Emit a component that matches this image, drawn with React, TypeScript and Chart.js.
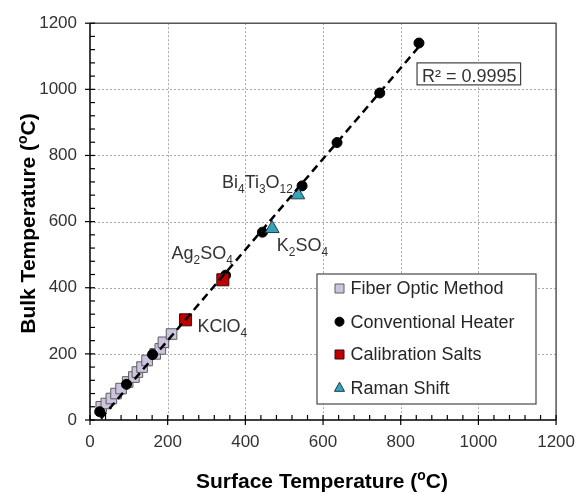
import React, { useEffect, useRef } from 'react';
import { Chart, registerables } from 'chart.js';

Chart.register(...registerables);

const FONT = '"Liberation Sans", Arial, Helvetica, sans-serif';

// ---- data ----
const fiberX = [29, 42, 55, 67, 80, 97, 113, 122, 134, 147, 168, 181, 189, 210];
const fiberY = [40, 50, 65, 80, 95, 115, 130, 145, 160, 180, 200, 215, 235, 260];
const heaterX = [25, 94, 161, 349, 444, 546, 636, 746, 847];
const heaterY = [25, 108, 198, 438, 568, 708, 839, 989, 1140];
const saltX = [246, 342];
const saltY = [303, 424];
const ramanX = [469, 535];
const ramanY = [579, 681];
const trendX = [28, 852];
const trendY = [4, 1136];
const axisTicks = [0, 200, 400, 600, 800, 1000, 1200];
const minorTicks = [
  40, 80, 120, 160, 240, 280, 320, 360, 440, 480, 520, 560, 640, 680, 720, 760,
  840, 880, 920, 960, 1040, 1080, 1120, 1160,
];
const rSquaredText = 'R² = 0.9995';
const xTitle = 'Surface Temperature (^{o}C)';
const yTitle = 'Bulk Temperature (^{o}C)';
const seriesLabels = ['Fiber Optic Method', 'Conventional Heater', 'Calibration Salts', 'Raman Shift'];

// annotation labels (text anchored in data coordinates: left, baseline)
const noteText = ['Bi_{4}Ti_{3}O_{12}', 'K_{2}SO_{4}', 'Ag_{2}SO_{4}', 'KClO_{4}'];
const noteX = [340, 481, 210, 277];
const noteY = [701, 511, 487, 265];

const pts = (xs: number[], ys: number[]) => xs.map((x, i) => ({ x, y: ys[i] }));

type Seg = { t: string; k: 'n' | 'sub' | 'sup' };
function parseRich(s: string): Seg[] {
  const out: Seg[] = [];
  const re = /([_^])\{([^}]*)\}/g;
  let last = 0;
  let m: RegExpExecArray | null;
  while ((m = re.exec(s))) {
    if (m.index > last) out.push({ t: s.slice(last, m.index), k: 'n' });
    out.push({ t: m[2], k: m[1] === '_' ? 'sub' : 'sup' });
    last = re.lastIndex;
  }
  if (last < s.length) out.push({ t: s.slice(last), k: 'n' });
  return out;
}

function drawRich(
  ctx: CanvasRenderingContext2D,
  str: string,
  x: number,
  y: number,
  size: number,
  weight: string,
  color: string,
  align: 'left' | 'center'
) {
  const segs = parseRich(str);
  const small = size * 0.66;
  ctx.textBaseline = 'alphabetic';
  ctx.textAlign = 'left';
  ctx.fillStyle = color;
  const widths = segs.map((s) => {
    ctx.font = `${weight} ${s.k === 'n' ? size : small}px ${FONT}`;
    return ctx.measureText(s.t).width;
  });
  const total = widths.reduce((a, b) => a + b, 0);
  let cx = align === 'center' ? x - total / 2 : x;
  segs.forEach((s, i) => {
    ctx.font = `${weight} ${s.k === 'n' ? size : small}px ${FONT}`;
    const dy = s.k === 'sub' ? size * 0.28 : s.k === 'sup' ? -size * 0.4 : 0;
    ctx.fillText(s.t, cx, y + dy);
    cx += widths[i];
  });
}

function drawMarker(ctx: CanvasRenderingContext2D, ds: any, x: number, y: number, r: number) {
  ctx.save();
  ctx.fillStyle = ds.backgroundColor;
  ctx.strokeStyle = ds.borderColor;
  ctx.lineWidth = ds.borderWidth ?? 1;
  ctx.beginPath();
  if (ds.pointStyle === 'rect') {
    ctx.rect(x - r, y - r, 2 * r, 2 * r);
  } else if (ds.pointStyle === 'triangle') {
    const h = r * 1.9;
    ctx.moveTo(x, y - h * 0.6);
    ctx.lineTo(x + r * 1.05, y + h * 0.4);
    ctx.lineTo(x - r * 1.05, y + h * 0.4);
    ctx.closePath();
  } else {
    ctx.arc(x, y, r, 0, Math.PI * 2);
  }
  ctx.fill();
  ctx.stroke();
  ctx.restore();
}

const decorPlugin = {
  id: 'decor',
  beforeDatasetsDraw(chart: any) {
    const { ctx, chartArea: a, scales } = chart;
    const sx = scales.x;
    const sy = scales.y;
    ctx.save();
    ctx.strokeStyle = '#a8a8a8';
    ctx.lineWidth = 1;
    ctx.setLineDash([2, 2]);
    axisTicks.forEach((v) => {
      if (v <= 0 || v >= 1200) return;
      const px = Math.round(sx.getPixelForValue(v)) + 0.5;
      ctx.beginPath();
      ctx.moveTo(px, a.top);
      ctx.lineTo(px, a.bottom);
      ctx.stroke();
      const py = Math.round(sy.getPixelForValue(v)) + 0.5;
      ctx.beginPath();
      ctx.moveTo(a.left, py);
      ctx.lineTo(a.right, py);
      ctx.stroke();
    });
    ctx.restore();
  },
  afterDatasetsDraw(chart: any) {
    const { ctx, chartArea: a, scales } = chart;
    const sx = scales.x;
    const sy = scales.y;
    ctx.save();
    // frame (top/right)
    ctx.strokeStyle = '#555555';
    ctx.lineWidth = 1.5;
    ctx.beginPath();
    ctx.moveTo(a.left, a.top);
    ctx.lineTo(a.right, a.top);
    ctx.lineTo(a.right, a.bottom);
    ctx.stroke();
    // axes
    ctx.strokeStyle = '#000';
    ctx.lineWidth = 1.5;
    ctx.beginPath();
    ctx.moveTo(a.left, a.top);
    ctx.lineTo(a.left, a.bottom);
    ctx.lineTo(a.right, a.bottom);
    ctx.stroke();
    // ticks
    ctx.lineWidth = 1.2;
    axisTicks.forEach((v) => {
      const px = sx.getPixelForValue(v);
      ctx.beginPath();
      ctx.moveTo(px, a.bottom + 5);
      ctx.lineTo(px, a.bottom - 5);
      ctx.stroke();
      const py = sy.getPixelForValue(v);
      ctx.beginPath();
      ctx.moveTo(a.left - 5, py);
      ctx.lineTo(a.left + 5, py);
      ctx.stroke();
    });
    minorTicks.forEach((v) => {
      const px = sx.getPixelForValue(v);
      ctx.beginPath();
      ctx.moveTo(px, a.bottom);
      ctx.lineTo(px, a.bottom - 5);
      ctx.stroke();
      const py = sy.getPixelForValue(v);
      ctx.beginPath();
      ctx.moveTo(a.left, py);
      ctx.lineTo(a.left + 5, py);
      ctx.stroke();
    });

    // annotations
    noteText.forEach((t, i) => {
      drawRich(ctx, t, sx.getPixelForValue(noteX[i]), sy.getPixelForValue(noteY[i]), 18, 'normal', '#333', 'left');
    });

    // R² box
    const bx = sx.getPixelForValue(842);
    const by = sy.getPixelForValue(1080);
    ctx.font = `18px ${FONT}`;
    const tw = ctx.measureText(rSquaredText).width;
    ctx.fillStyle = '#fff';
    ctx.fillRect(bx, by, tw + 9, 22);
    ctx.strokeStyle = '#404040';
    ctx.lineWidth = 1.2;
    ctx.strokeRect(bx, by, tw + 9, 22);
    ctx.fillStyle = '#333';
    ctx.textAlign = 'left';
    ctx.textBaseline = 'alphabetic';
    ctx.fillText(rSquaredText, bx + 5, by + 19);

    // legend
    const lx = 317;
    const ly = 274;
    ctx.fillStyle = '#fff';
    ctx.fillRect(lx, ly, 219, 130);
    ctx.strokeStyle = '#555';
    ctx.lineWidth = 1.3;
    ctx.strokeRect(lx, ly, 219, 130);
    const dsets = chart.data.datasets;
    const rows = [288.5, 321.7, 354.5, 387.7];
    seriesLabels.forEach((lab, i) => {
      const ds = dsets.find((d: any) => d.label === lab);
      const r = ds.pointStyle === 'circle' ? 4.5 : ds.pointStyle === 'triangle' ? 4.8 : 4.5;
      drawMarker(ctx, ds, 339.5, rows[i], r);
      ctx.font = `18px ${FONT}`;
      ctx.fillStyle = '#262626';
      ctx.textAlign = 'left';
      ctx.textBaseline = 'middle';
      ctx.fillText(lab, 350.5, rows[i] + 1);
    });

    // axis titles
    drawRich(ctx, xTitle, 322, 488, 21, 'bold', '#000', 'center');
    ctx.save();
    ctx.translate(35, 223.5);
    ctx.rotate(-Math.PI / 2);
    drawRich(ctx, yTitle, 0, 0, 21, 'bold', '#000', 'center');
    ctx.restore();

    ctx.restore();
  },
};

export default function App() {
  const ref = useRef<HTMLCanvasElement | null>(null);
  useEffect(() => {
    document.body.style.margin = '0';
    const canvas = ref.current;
    if (!canvas) return;
    const chart = new Chart(canvas, {
      type: 'scatter',
      data: {
        datasets: [
          {
            label: 'Trend',
            data: pts(trendX, trendY),
            showLine: true,
            borderColor: '#000',
            borderWidth: 2.5,
            borderDash: [8, 5],
            pointRadius: 0,
            fill: false,
          } as any,
          {
            label: 'Calibration Salts',
            data: pts(saltX, saltY),
            pointStyle: 'rect',
            pointRadius: 8.5,
            backgroundColor: '#c00000',
            borderColor: '#3a0a0a',
            borderWidth: 1,
          },
          {
            label: 'Raman Shift',
            data: pts(ramanX, ramanY),
            pointStyle: 'triangle',
            pointRadius: 8,
            backgroundColor: '#38a2ba',
            borderColor: '#1d3f4c',
            borderWidth: 1,
          },
          {
            label: 'Conventional Heater',
            data: pts(heaterX, heaterY),
            pointStyle: 'circle',
            pointRadius: 5,
            backgroundColor: '#000',
            borderColor: '#000',
            borderWidth: 1,
          },
          {
            label: 'Fiber Optic Method',
            data: pts(fiberX, fiberY),
            pointStyle: 'rect',
            pointRadius: 7.5,
            backgroundColor: '#cdc3df',
            borderColor: '#5e5e5e',
            borderWidth: 1,
          },
        ],
      },
      options: {
        animation: false,
        responsive: false,
        maintainAspectRatio: false,
        layout: { padding: { top: 21, right: 21, left: 0, bottom: 0 } },
        plugins: {
          legend: { display: false },
          tooltip: { enabled: false },
          title: { display: false },
        },
        scales: {
          x: {
            type: 'linear',
            min: 0,
            max: 1200,
            afterBuildTicks: (s: any) => {
              s.ticks = axisTicks.map((v) => ({ value: v }));
            },
            afterFit: (s: any) => {
              s.height = 73;
            },
            ticks: {
              font: { family: FONT, size: 17 },
              color: '#333',
              padding: 12,
              maxRotation: 0,
              autoSkip: false,
              callback: (v: any) => String(v),
            },
            grid: { display: false, drawTicks: false },
            border: { display: false },
          },
          y: {
            type: 'linear',
            min: 0,
            max: 1200,
            afterBuildTicks: (s: any) => {
              s.ticks = axisTicks.map((v) => ({ value: v }));
            },
            afterFit: (s: any) => {
              s.width = 90;
            },
            ticks: {
              font: { family: FONT, size: 17 },
              color: '#333',
              padding: 13,
              autoSkip: false,
              callback: (v: any) => String(v),
            },
            grid: { display: false, drawTicks: false },
            border: { display: false },
          },
        },
      },
      plugins: [decorPlugin],
    });
    return () => chart.destroy();
  }, []);
  return (
    <div style={{ position: 'absolute', left: 0, top: 0, width: 587, height: 493, background: '#fff' }}>
      <canvas ref={ref} width={587} height={493} style={{ width: 587, height: 493, display: 'block' }} />
    </div>
  );
}
